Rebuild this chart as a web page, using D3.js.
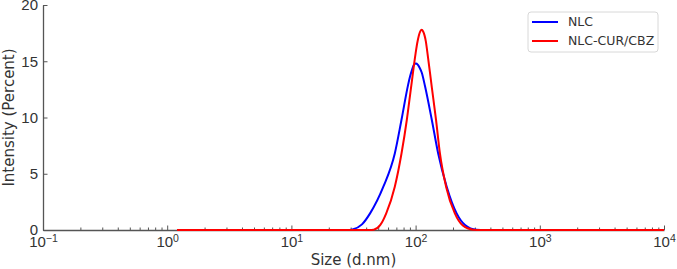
<!DOCTYPE html>
<html>
<head>
<meta charset="utf-8">
<script src="https://cdn.jsdelivr.net/npm/d3@7"></script>
<style>
  body { margin: 0; background: #fff; }
  svg { font-family: "DejaVu Sans", sans-serif; }
</style>
</head>
<body>
<svg width="677" height="269"></svg>
<script>
// size (d.nm) and intensity (%)
var sizeNLC = [1.2, 20, 28, 31, 37, 43, 55, 68, 77, 87, 90, 94, 97, 100.7, 104, 108, 112, 119, 135, 152, 178, 214, 250, 309, 360, 1000, 10000];
var intNLC  = [0, 0, 0, 0.05, 0.5, 1.48, 3.85, 6.8, 9.8, 12.9, 13.6, 14.3, 14.7, 14.8, 14.7, 14.4, 14.0, 12.8, 9.8, 6.8, 3.85, 1.48, 0.45, 0.03, 0, 0, 0];

var sizeCUR = [1.2, 30, 42, 46, 52, 58, 68, 77, 85, 92, 100, 103, 106, 109, 112, 115, 118, 121, 124, 135, 146, 157, 176, 207, 240, 290, 330, 1000, 10000];
var intCUR  = [0, 0, 0, 0.03, 0.45, 1.48, 3.85, 6.8, 9.8, 12.7, 15.7, 16.6, 17.25, 17.65, 17.8, 17.65, 17.3, 16.75, 15.9, 12.7, 9.8, 6.8, 3.85, 1.48, 0.4, 0.03, 0, 0, 0];

var seriesNames = ["NLC", "NLC-CUR/CBZ"];
var seriesColors = ["#0000ff", "#ff0000"];
var xMajor = [0.1, 1, 10, 100, 1000, 10000];
var xExp = ["\u22121", "0", "1", "2", "3", "4"];
var yTicks = [0, 5, 10, 15, 20];

var svg = d3.select("svg");
// plot area edges (note: "top" is reserved on window, so use px names)
var pxL = 43, pxR = 664, pxT = 5, pxB = 230;

var scX = d3.scaleLog().domain([0.1, 10000]).range([pxL, pxR]);
var scY = d3.scaleLinear().domain([0, 20]).range([pxB, pxT]);

var axisColor = "#555";
var textColor = "#333";

// minor ticks on the log axis
var minor = [];
xMajor.slice(0, -1).forEach(function(m) {
    for (var k = 2; k <= 9; k++) minor.push(m * k);
});

var gMinor = svg.append("g")
    .attr("transform", "translate(0," + pxB + ")")
    .call(d3.axisBottom(scX).tickValues(minor).tickSize(-2.5).tickFormat(""));
gMinor.select(".domain").remove();
gMinor.selectAll("line").attr("stroke", axisColor);

var gx = svg.append("g")
    .attr("transform", "translate(0," + pxB + ")")
    .call(d3.axisBottom(scX).tickValues(xMajor).tickSize(-4.5).tickSizeOuter(0).tickPadding(6));
gx.select(".domain").attr("stroke", axisColor).attr("stroke-width", 1.3);
gx.selectAll("line").attr("stroke", axisColor);
gx.selectAll("text")
    .attr("fill", textColor)
    .attr("font-size", 15)
    .each(function(d, i) {
        var t = d3.select(this).text("10");
        t.append("tspan").attr("dy", "-0.45em").attr("font-size", 10.5).text(xExp[i]);
    });

var gy = svg.append("g")
    .attr("transform", "translate(" + pxL + ",0)")
    .call(d3.axisLeft(scY).tickValues(yTicks).tickSize(-4.5).tickSizeOuter(0).tickPadding(5));
gy.select(".domain").attr("stroke", axisColor).attr("stroke-width", 1.3);
gy.selectAll("line").attr("stroke", axisColor);
gy.selectAll("text").attr("fill", textColor).attr("font-size", 15);

// axis titles
svg.append("text")
    .attr("x", (pxL + pxR) / 2).attr("y", 265)
    .attr("text-anchor", "middle").attr("font-size", 15).attr("fill", textColor)
    .text("Size (d.nm)");
svg.append("text")
    .attr("transform", "translate(14," + ((pxT + pxB) / 2) + ") rotate(-90)")
    .attr("text-anchor", "middle").attr("font-size", 15).attr("fill", textColor)
    .text("Intensity (Percent)");

// curves
var lnMkr = d3.line().curve(d3.curveMonotoneX)
    .x(d => scX(d[0])).y(d => scY(d[1]));

var sets = [d3.zip(sizeNLC, intNLC), d3.zip(sizeCUR, intCUR)];
sets.forEach(function(pts, i) {
    svg.append("path")
        .attr("fill", "none")
        .attr("stroke", seriesColors[i])
        .attr("stroke-width", 2)
        .attr("d", lnMkr(pts));
});

// legend
var lg = svg.append("g").attr("transform", "translate(528,12)");
lg.append("rect")
    .attr("width", 130).attr("height", 40).attr("rx", 3)
    .attr("fill", "#fff").attr("stroke", "#d8d8d8");
seriesNames.forEach(function(n, i) {
    var yy = 10 + i * 19;
    lg.append("line")
        .attr("x1", 4).attr("x2", 30).attr("y1", yy).attr("y2", yy)
        .attr("stroke", seriesColors[i]).attr("stroke-width", 2);
    lg.append("text")
        .attr("x", 40).attr("y", yy).attr("dy", "0.35em")
        .attr("font-size", 12.5).attr("fill", textColor)
        .text(n);
});
</script>
</body>
</html>
